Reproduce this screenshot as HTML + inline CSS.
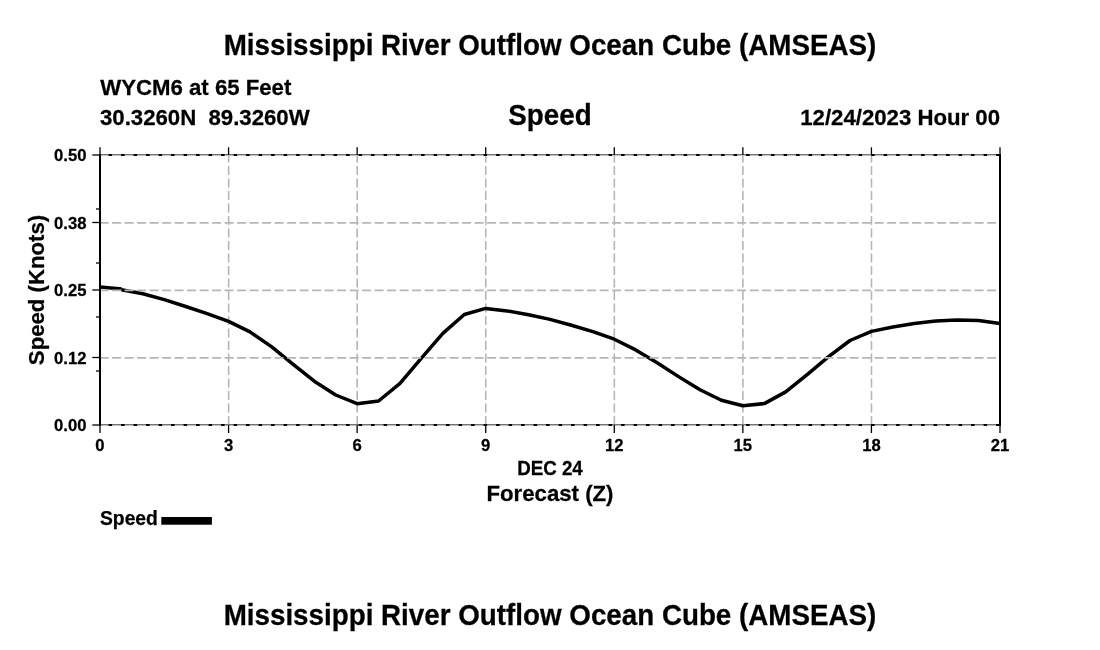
<!DOCTYPE html>
<html lang="en"><head><meta charset="utf-8"><title>Mississippi River Outflow Ocean Cube (AMSEAS)</title>
<style>html,body{margin:0;padding:0;background:#fff;overflow:hidden}svg{display:block}text{font-family:"Liberation Sans",sans-serif;font-weight:bold;fill:#000;stroke:#000;stroke-width:0.25px}</style></head><body>
<svg width="1100" height="650" viewBox="0 0 1100 650">
<rect width="1100" height="650" fill="#fff"/>
<text transform="translate(550 54.8) scale(1 1.03)" font-size="27.78" text-anchor="middle">Mississippi River Outflow Ocean Cube (AMSEAS)</text>
<text transform="translate(550 624.8) scale(1 1.03)" font-size="27.78" text-anchor="middle">Mississippi River Outflow Ocean Cube (AMSEAS)</text>
<text transform="translate(100.3 94.9) scale(1 1.03)" font-size="22.2">WYCM6 at 65 Feet</text>
<text transform="translate(100 124.9) scale(1 1.03)" font-size="22.2" xml:space="preserve">30.3260N  89.3260W</text>
<text transform="translate(550 125) scale(1 1.03)" font-size="27.78" text-anchor="middle">Speed</text>
<text transform="translate(1000 124.9) scale(1 1.03)" font-size="22.2" text-anchor="end">12/24/2023 Hour 00</text>
<g stroke="#b6b6b6" stroke-width="1.6" stroke-dasharray="9 3.5" fill="none">
<line x1="228.62" y1="425.1" x2="228.62" y2="155"/>
<line x1="357.19" y1="425.1" x2="357.19" y2="155"/>
<line x1="485.76" y1="425.1" x2="485.76" y2="155"/>
<line x1="614.34" y1="425.1" x2="614.34" y2="155"/>
<line x1="742.91" y1="425.1" x2="742.91" y2="155"/>
<line x1="871.48" y1="425.1" x2="871.48" y2="155"/>
</g>
<line x1="100.00" y1="287.0" x2="121.73" y2="289.1" stroke="#000" stroke-width="3.5"/>
<polyline points="121.43,289.8 142.86,293.8 164.29,299.6 185.71,306.5 207.14,313.6 228.57,321.4 250.00,331.9 271.43,346.6 292.86,364.2 314.29,381.2 335.71,395.0 357.14,403.7 378.57,401.0 400.00,383.3 421.43,358.2 442.86,333.4 464.29,314.5 485.71,308.4 507.14,310.9 528.57,314.7 550.00,319.4 571.43,325.2 592.86,331.6 614.29,339.2 635.71,349.9 657.14,362.8 678.57,376.6 700.00,389.8 721.43,400.2 742.86,405.7 764.29,403.6 785.71,391.9 807.14,374.6 828.57,356.6 850.00,340.5 871.43,331.4 892.86,327.0 914.29,323.4 935.71,320.9 957.14,320.1 978.57,320.6 1000.00,323.4" fill="none" stroke="#000" stroke-width="3.5" stroke-linejoin="round" stroke-linecap="butt"/>
<g stroke="#b6b6b6" stroke-width="1.6" stroke-dasharray="9 3.5" fill="none">
<line x1="99.6" y1="222.85" x2="1000" y2="222.85"/>
<line x1="99.6" y1="290.35" x2="1000" y2="290.35"/>
<line x1="99.6" y1="357.85" x2="1000" y2="357.85"/>
</g>
<g stroke="#000" fill="none">
<line x1="100" y1="155" x2="1000" y2="155" stroke-width="2"/>
<line x1="100" y1="425" x2="1000" y2="425" stroke-width="2"/>
<line x1="99.6" y1="154.5" x2="1000" y2="154.5" stroke-width="1" stroke="#747474" stroke-dasharray="9 3.5"/>
<line x1="99.6" y1="155.5" x2="1000" y2="155.5" stroke-width="1" stroke="#c0c0c0" stroke-dasharray="9 3.5"/>
<line x1="99.6" y1="424.5" x2="1000" y2="424.5" stroke-width="1" stroke="#747474" stroke-dasharray="9 3.5"/>
<line x1="99.6" y1="425.5" x2="1000" y2="425.5" stroke-width="1" stroke="#c0c0c0" stroke-dasharray="9 3.5"/>
<line x1="100" y1="154" x2="100" y2="426" stroke-width="2"/>
<line x1="1000" y1="154" x2="1000" y2="426" stroke-width="2"/>
<g stroke-width="1.3">
<line x1="100.00" y1="147.3" x2="100.00" y2="155"/>
<line x1="100.00" y1="425" x2="100.00" y2="433"/>
<line x1="228.57" y1="147.3" x2="228.57" y2="155"/>
<line x1="228.57" y1="425" x2="228.57" y2="433"/>
<line x1="357.14" y1="147.3" x2="357.14" y2="155"/>
<line x1="357.14" y1="425" x2="357.14" y2="433"/>
<line x1="485.71" y1="147.3" x2="485.71" y2="155"/>
<line x1="485.71" y1="425" x2="485.71" y2="433"/>
<line x1="614.29" y1="147.3" x2="614.29" y2="155"/>
<line x1="614.29" y1="425" x2="614.29" y2="433"/>
<line x1="742.86" y1="147.3" x2="742.86" y2="155"/>
<line x1="742.86" y1="425" x2="742.86" y2="433"/>
<line x1="871.43" y1="147.3" x2="871.43" y2="155"/>
<line x1="871.43" y1="425" x2="871.43" y2="433"/>
<line x1="1000.00" y1="147.3" x2="1000.00" y2="155"/>
<line x1="1000.00" y1="425" x2="1000.00" y2="433"/>
<line x1="92.3" y1="155" x2="100" y2="155"/>
<line x1="92.3" y1="222.5" x2="100" y2="222.5"/>
<line x1="92.3" y1="290" x2="100" y2="290"/>
<line x1="92.3" y1="357.5" x2="100" y2="357.5"/>
<line x1="92.3" y1="425" x2="100" y2="425"/>
<line x1="96" y1="371.0" x2="100" y2="371.0"/>
<line x1="96" y1="317.0" x2="100" y2="317.0"/>
<line x1="96" y1="263.0" x2="100" y2="263.0"/>
<line x1="96" y1="209.0" x2="100" y2="209.0"/>
</g>
</g>
<text transform="translate(100.0 450.9) scale(1 1.03)" font-size="16.67" text-anchor="middle">0</text>
<text transform="translate(228.57 450.9) scale(1 1.03)" font-size="16.67" text-anchor="middle">3</text>
<text transform="translate(357.14 450.9) scale(1 1.03)" font-size="16.67" text-anchor="middle">6</text>
<text transform="translate(485.71 450.9) scale(1 1.03)" font-size="16.67" text-anchor="middle">9</text>
<text transform="translate(614.29 450.9) scale(1 1.03)" font-size="16.67" text-anchor="middle">12</text>
<text transform="translate(742.86 450.9) scale(1 1.03)" font-size="16.67" text-anchor="middle">15</text>
<text transform="translate(871.43 450.9) scale(1 1.03)" font-size="16.67" text-anchor="middle">18</text>
<text transform="translate(1000.0 450.9) scale(1 1.03)" font-size="16.67" text-anchor="middle">21</text>
<text transform="translate(86.5 161.4) scale(1 1.03)" font-size="16.67" text-anchor="end">0.50</text>
<text transform="translate(86.5 228.9) scale(1 1.03)" font-size="16.67" text-anchor="end">0.38</text>
<text transform="translate(86.5 296.4) scale(1 1.03)" font-size="16.67" text-anchor="end">0.25</text>
<text transform="translate(86.5 363.9) scale(1 1.03)" font-size="16.67" text-anchor="end">0.12</text>
<text transform="translate(86.5 431.4) scale(1 1.03)" font-size="16.67" text-anchor="end">0.00</text>
<text transform="translate(43.7 290) rotate(-90) scale(1 1.03)" font-size="22.2" text-anchor="middle">Speed (Knots)</text>
<text transform="translate(550 474.8) scale(1 1.03)" font-size="18.75" text-anchor="middle">DEC 24</text>
<text transform="translate(550 500.9) scale(1 1.03)" font-size="22.2" text-anchor="middle">Forecast (Z)</text>
<text x="100" y="524.6" font-size="19.3">Speed</text>
<rect x="161.3" y="517" width="50.6" height="7.7" fill="#000"/>
</svg></body></html>
